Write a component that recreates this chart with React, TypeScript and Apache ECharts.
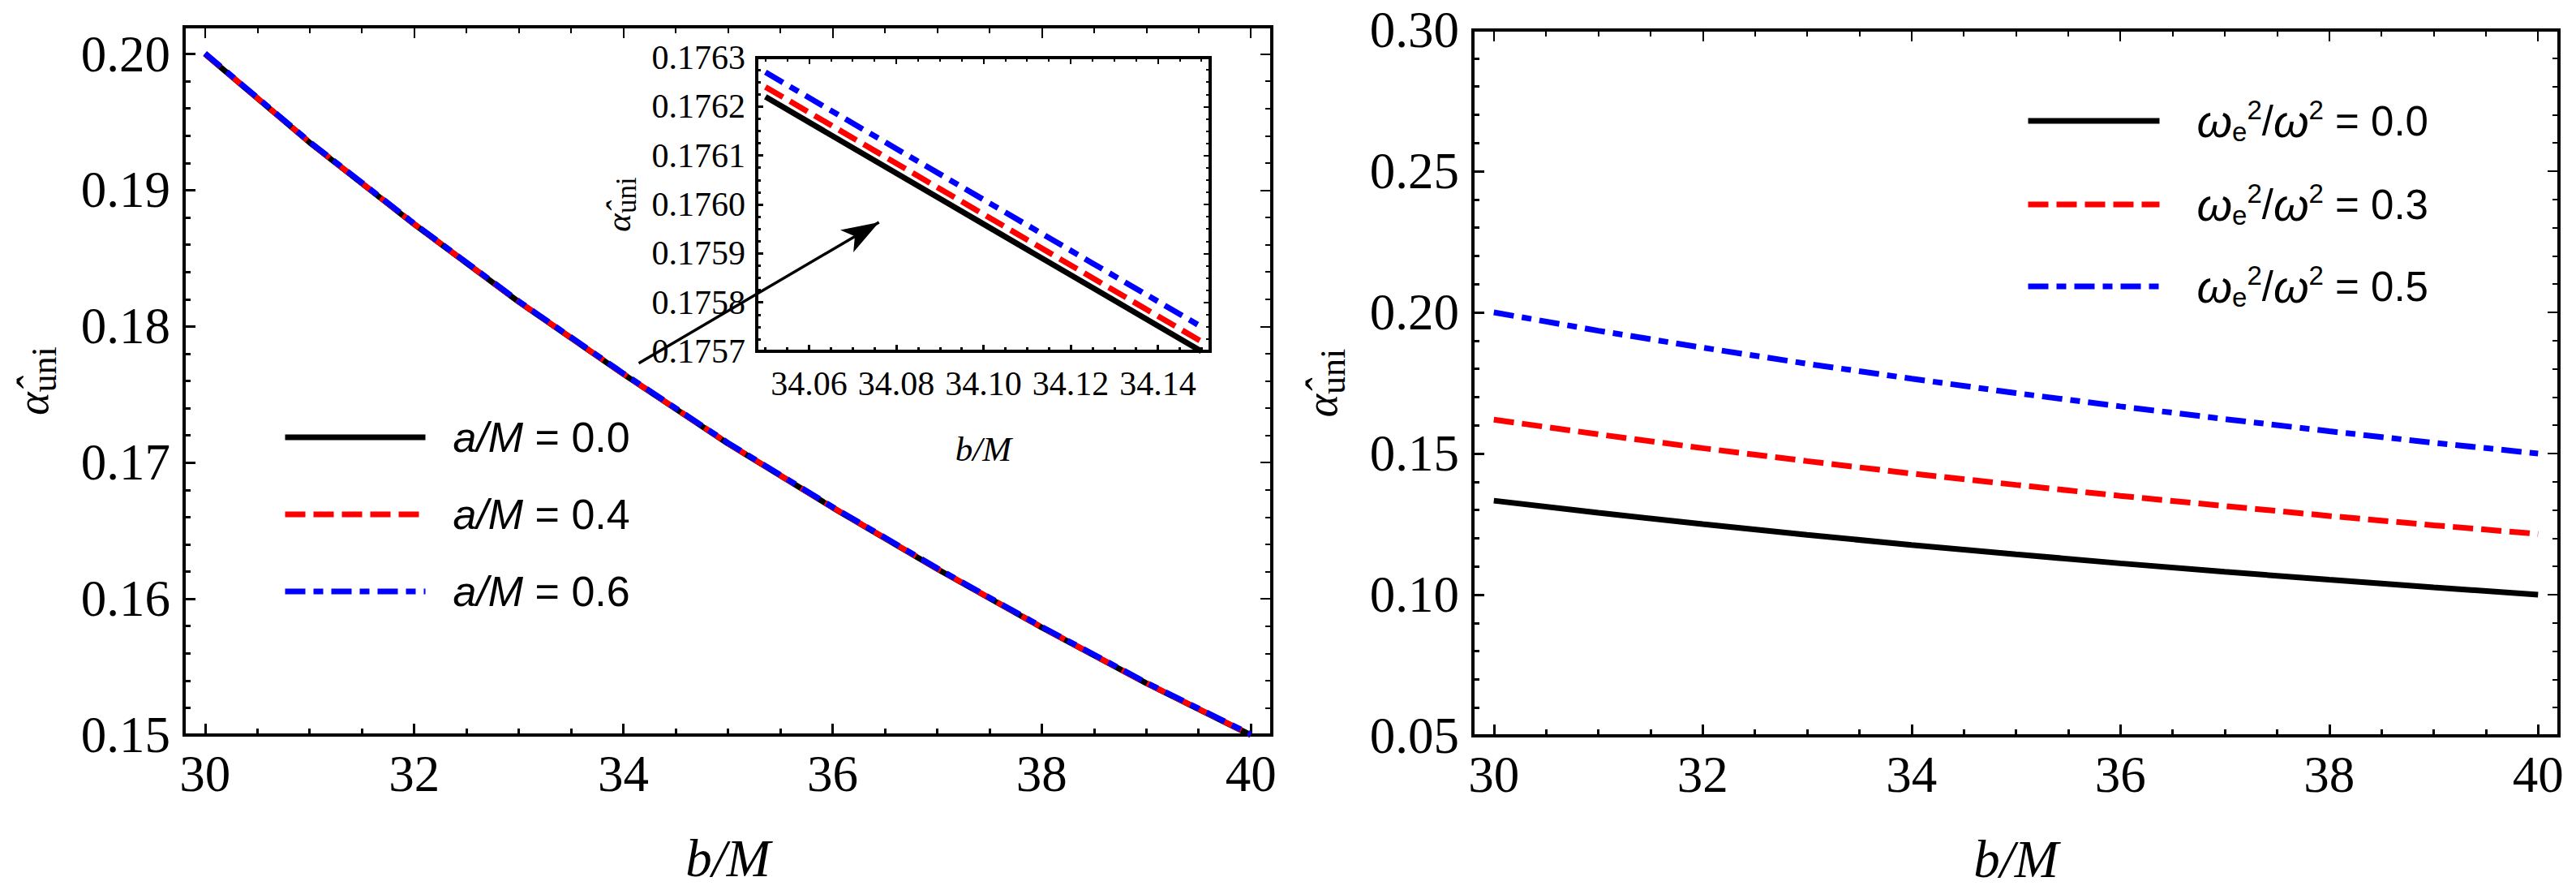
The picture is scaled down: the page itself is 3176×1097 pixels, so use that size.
import React, { useEffect, useRef } from "react";
import * as echarts from "echarts";

// ---------------- data ----------------
const bValues = [30, 31, 32, 33, 34, 35, 36, 37, 38, 39, 40];

// left panel (a/M)
const leftA00 = [0.2, 0.1935, 0.1875, 0.1818, 0.1765, 0.1714, 0.1667, 0.1622, 0.1579, 0.1538, 0.15];
const leftA04 = [0.20002, 0.19352, 0.18752, 0.18182, 0.17652, 0.17142, 0.16672, 0.16222, 0.15792, 0.15382, 0.15002];
const leftA06 = [0.20005, 0.19355, 0.18755, 0.18185, 0.17655, 0.17145, 0.16675, 0.16225, 0.15795, 0.15385, 0.15005];

// inset (zoom near b/M = 34.1)
const insetB = [34.05, 34.075, 34.1, 34.125, 34.15];
const insetA00 = [0.17622, 0.17609, 0.17596, 0.17583, 0.1757];
const insetA04 = [0.17624, 0.17611, 0.17598, 0.17585, 0.17572];
const insetA06 = [0.17627, 0.17614, 0.17601, 0.17588, 0.17575];

// right panel (omega_e^2 / omega^2)
const rightW00 = [0.1333, 0.129, 0.125, 0.1212, 0.1176, 0.1143, 0.1111, 0.1081, 0.1053, 0.1026, 0.1];
const rightW03 = [0.162, 0.1568, 0.1519, 0.1473, 0.1429, 0.1389, 0.135, 0.1314, 0.1279, 0.1246, 0.1215];
const rightW05 = [0.2, 0.1935, 0.1875, 0.1818, 0.1765, 0.1714, 0.1667, 0.1622, 0.1579, 0.1538, 0.15];

// ticks
const mainXTicks = [30, 32, 34, 36, 38, 40];
const leftYTicks = [0.15, 0.16, 0.17, 0.18, 0.19, 0.2];
const rightYTicks = [0.05, 0.1, 0.15, 0.2, 0.25, 0.3];
const insetXTicks = [34.06, 34.08, 34.1, 34.12, 34.14];
const insetYTicks = [0.1757, 0.1758, 0.1759, 0.176, 0.1761, 0.1762, 0.1763];

// legends
const aValues = ["0.0", "0.4", "0.6"];
const wValues = ["0.0", "0.3", "0.5"];
const leftNames = aValues.map((v) => `a/M = ${v}`);
const rightNames = wValues.map((v) => `we2/w2 = ${v}`);

// arrow annotation (data coordinates of the left panel)
const arrowFrom = [34.147, 0.17729];
const arrowTo = [36.444, 0.18765];

// ---------------- helpers ----------------
const SERIF = "'Liberation Serif', 'Times New Roman', serif";
const SANS = "'Liberation Sans', Arial, sans-serif";

function minorValues(start: number, end: number, step: number, majors: number[]) {
  const out: number[] = [];
  const n = Math.round((end - start) / step);
  for (let i = 0; i <= n; i++) {
    const v = +(start + i * step).toFixed(7);
    if (!majors.some((m) => Math.abs(m - v) < step / 10)) out.push(v);
  }
  return out;
}

function frameAxes(
  dim: "x" | "y",
  gridIndex: number,
  min: number,
  max: number,
  majors: number[],
  minors: number[],
  fmt: (v: number) => string,
  fontSize: number,
  margin: number,
  majorLen: number,
  minorLen: number,
  name: string,
  nameGap: number,
  nameTextStyle: any
) {
  const sides = dim === "x" ? ["bottom", "top"] : ["left", "right"];
  const axes: any[] = [];
  sides.forEach((pos, si) => {
    const primary = si === 0;
    const tickW = primary ? 3 : 2;
    axes.push({
      type: "value",
      gridIndex,
      min,
      max,
      position: pos,
      name: primary ? name : "",
      nameLocation: "middle",
      nameGap,
      nameTextStyle,
      silent: true,
      axisLine: { show: true, onZero: false, lineStyle: { color: "#000", width: 4, cap: "square" } },
      axisTick: {
        show: true,
        inside: true,
        length: majorLen,
        customValues: majors,
        lineStyle: { color: "#000", width: tickW },
      },
      axisLabel: {
        show: primary,
        customValues: majors,
        formatter: fmt,
        margin,
        fontFamily: SERIF,
        fontSize,
        color: "#000",
      },
      splitLine: { show: false },
      axisPointer: { show: false },
    });
    axes.push({
      type: "value",
      gridIndex,
      min,
      max,
      position: pos,
      silent: true,
      axisLine: { show: false, onZero: false },
      axisTick: {
        show: true,
        inside: true,
        length: minorLen,
        customValues: minors,
        lineStyle: { color: "#000", width: tickW },
      },
      axisLabel: { show: false },
      splitLine: { show: false },
      axisPointer: { show: false },
    });
  });
  return axes;
}

const xNameStyle = (size: number) => ({
  fontFamily: SERIF,
  fontStyle: "italic",
  fontSize: size,
  color: "#000",
});

const yNameStyle = (a: number, s: number, lh: number) => ({
  fontFamily: SERIF,
  color: "#000",
  rich: {
    a: { fontFamily: SERIF, fontStyle: "italic", fontSize: a, lineHeight: lh, color: "#000" },
    s: { fontFamily: SERIF, fontSize: s, lineHeight: s, verticalAlign: "bottom", color: "#000" },
  },
});

const RED_DASH = [25, 10];
const BLUE_DASHDOT = [25, 10, 12, 10];

function line(name: string, x: number[], y: number[], color: string, type: any, axis: number, extra: any = {}) {
  return {
    type: "line",
    name,
    xAxisIndex: axis,
    yAxisIndex: axis,
    data: x.map((b, i) => [b, y[i]]),
    showSymbol: false,
    symbol: "none",
    silent: true,
    color,
    lineStyle: { color, width: 7, type },
    ...extra,
  };
}

export default function App() {
  const ref = useRef<HTMLDivElement>(null);
  useEffect(() => {
    if (!ref.current) return;
    const chart = echarts.init(ref.current, undefined, { renderer: "svg" });

    const mainXMinor = minorValues(30, 40, 0.5, mainXTicks);
    const leftYMinor = minorValues(0.15, 0.2, 0.002, leftYTicks);
    const rightYMinor = minorValues(0.05, 0.3, 0.01, rightYTicks);
    const insetXMinor = minorValues(34.05, 34.15, 0.005, insetXTicks);
    const insetYMinor = minorValues(0.1757, 0.1763, 0.000025, insetYTicks);

    const fmtInt = (v: number) => String(Math.round(v));
    const fmt2 = (v: number) => v.toFixed(2);
    const fmt4 = (v: number) => v.toFixed(4);
    const yName = "{a|\u03B1\u0302}{s|uni}";

    const xAxis = [
      ...frameAxes("x", 0, 29.8, 40.2, mainXTicks, mainXMinor, fmtInt, 63, 16, 14, 8, "b/M", 119, xNameStyle(65)),
      ...frameAxes("x", 1, 29.8, 40.2, mainXTicks, mainXMinor, fmtInt, 63, 16, 14, 8, "b/M", 119, xNameStyle(65)),
      ...frameAxes("x", 2, 34.048, 34.152, insetXTicks, insetXMinor, fmt2, 42, 19, 8, 5, "b/M", 99, xNameStyle(43)),
    ];
    const yAxis = [
      ...frameAxes("y", 0, 0.15, 0.202, leftYTicks, leftYMinor, fmt2, 63, 17, 14, 8, yName, 151, yNameStyle(54, 44, 70)),
      ...frameAxes("y", 1, 0.05, 0.3, rightYTicks, rightYMinor, fmt2, 63, 17, 14, 8, yName, 151, yNameStyle(54, 44, 70)),
      ...frameAxes("y", 2, 0.1757, 0.1763, insetYTicks, insetYMinor, fmt4, 42, 14, 8, 5, yName, 143, yNameStyle(43, 35, 56)),
    ];

    const leftRich = {
      i: { fontFamily: SANS, fontStyle: "italic", fontSize: 52, lineHeight: 60, color: "#000" },
      r: { fontFamily: SANS, fontSize: 52, lineHeight: 60, color: "#000" },
    };
    const rightRich = {
      w: { fontFamily: SANS, fontStyle: "italic", fontSize: 56, lineHeight: 60, color: "#000" },
      r: { fontFamily: SANS, fontSize: 51, lineHeight: 60, color: "#000" },
      sub: { fontFamily: SANS, fontSize: 33, lineHeight: 32, verticalAlign: "bottom", color: "#000" },
      sup: { fontFamily: SANS, fontSize: 33, lineHeight: 24, verticalAlign: "top", color: "#000" },
    };

    const hiddenSymbol = { color: "rgba(0,0,0,0)", borderColor: "rgba(0,0,0,0)", borderWidth: 0, opacity: 0 };

    const leftRowCenters = [543, 638, 733];
    const rightRowCenters = [149, 252, 353];

    const legendRow = (
      name: string,
      left: number,
      centerY: number,
      itemWidth: number,
      textPad: number,
      rich: any,
      fontSize: number,
      fmt: (n: string) => string
    ) => ({
      data: [name],
      orient: "vertical",
      left,
      top: centerY - 30,
      padding: 0,
      itemWidth,
      itemHeight: 60,
      itemGap: 0,
      selectedMode: false,
      itemStyle: hiddenSymbol,
      lineStyle: { width: 7 },
      textStyle: { fontFamily: SANS, fontSize, color: "#000", padding: [0, 0, 0, textPad], rich },
      formatter: fmt,
    });

    const leftFmt = (n: string) => `{i|a/M}{r| = ${aValues[leftNames.indexOf(n)]}}`;
    const rightFmt = (n: string) =>
      `{w|\u03C9}{sub|e}{sup|2}{r|/}{w|\u03C9}{sup|2}{r| = ${wValues[rightNames.indexOf(n)]}}`;

    const legend = [
      ...leftNames.map((n, i) => legendRow(n, 348, leftRowCenters[i], 173, 29, leftRich, 52, leftFmt)),
      ...rightNames.map((n, i) => legendRow(n, 2497, rightRowCenters[i], 162, 41, rightRich, 51, rightFmt)),
    ];

    const option: any = {
      animation: false,
      backgroundColor: "#fff",
      grid: [
        { left: 227, top: 33, width: 1341, height: 873, containLabel: false, outerBoundsMode: "none" },
        { left: 1816, top: 37, width: 1339, height: 870, containLabel: false, outerBoundsMode: "none" },
        { left: 933, top: 71, width: 559, height: 362, containLabel: false, outerBoundsMode: "none" },
      ],
      xAxis,
      yAxis,
      legend,
      series: [
        line(leftNames[0], bValues, leftA00, "#000000", "solid", 0, {
          markLine: {
            silent: true,
            symbol: ["none", "arrow"],
            symbolSize: [24, 46],
            label: { show: false },
            lineStyle: { color: "#000", width: 3.5, type: "solid" },
            emphasis: { disabled: true },
            data: [[{ coord: arrowFrom }, { coord: arrowTo }]],
          },
        }),
        line(leftNames[1], bValues, leftA04, "#ff0000", RED_DASH, 0),
        line(leftNames[2], bValues, leftA06, "#0000ff", BLUE_DASHDOT, 0),
        line(rightNames[0], bValues, rightW00, "#000000", "solid", 4),
        line(rightNames[1], bValues, rightW03, "#ff0000", RED_DASH, 4),
        line(rightNames[2], bValues, rightW05, "#0000ff", BLUE_DASHDOT, 4),
        line("inset a0", insetB, insetA00, "#000000", "solid", 8),
        line("inset a4", insetB, insetA04, "#ff0000", RED_DASH, 8),
        line("inset a6", insetB, insetA06, "#0000ff", BLUE_DASHDOT, 8),
      ],
    };
    chart.setOption(option);
    return () => chart.dispose();
  }, []);

  return (
    <div
      ref={ref}
      style={{ position: "absolute", left: 0, top: 0, width: 3176, height: 1097, background: "#fff" }}
    />
  );
}
